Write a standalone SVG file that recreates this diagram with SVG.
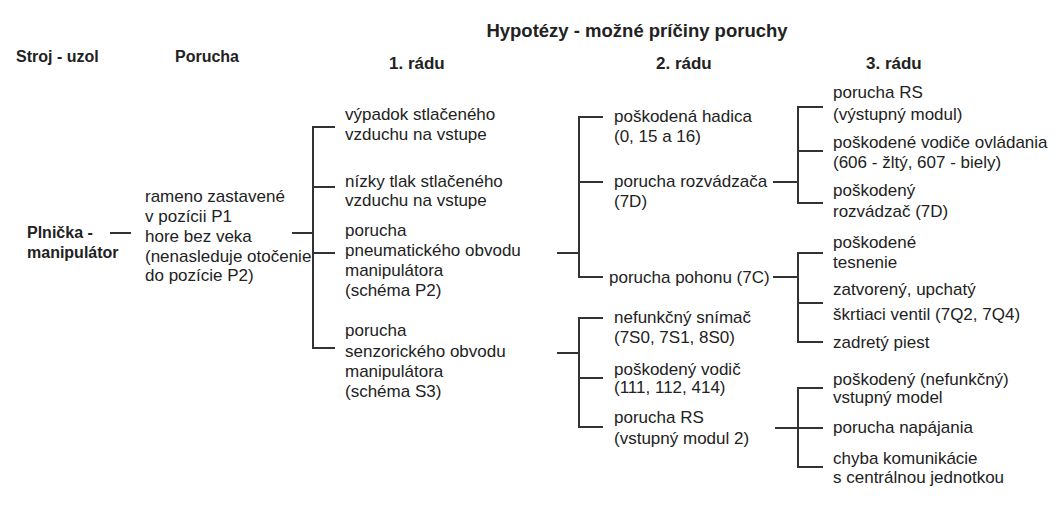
<svg xmlns="http://www.w3.org/2000/svg" width="1063" height="505" viewBox="0 0 1063 505">
<style>
text{font-family:"Liberation Sans",Arial,sans-serif;font-size:17px;fill:#222}
.b{font-weight:bold;font-size:16px}
.h{font-size:17px}
#connectors path{fill:none;stroke:#333;stroke-width:2}
</style>
<rect width="1063" height="505" fill="#fff"/>
<g id="headers">
<text class="b" x="637" y="37" text-anchor="middle" style="font-size:18.5px">Hypotézy - možné príčiny poruchy</text>
<text class="b" x="16" y="62">Stroj - uzol</text>
<text class="b" x="175" y="62">Porucha</text>
<text class="b h" x="389" y="69">1. rádu</text>
<text class="b h" x="656" y="69">2. rádu</text>
<text class="b h" x="866" y="69">3. rádu</text>
</g>
<g id="connectors">
<path d="M110 233H131"/>
<path d="M292 233H313M335 127H313V348H335M313 187H335M313 253H335"/>
<path d="M557 253H579M603 117H579V277H603M579 182H603"/>
<path d="M557 353H579M603 318H579V427H603M579 378H603"/>
<path d="M773 182H798M823 107H798V203H823M798 151H823"/>
<path d="M773 277H798M823 253H798V342H823M798 303H823"/>
<path d="M775 428H823M823 388H798V467H823"/>
</g>
<g id="n-stroj"><text class="b" x="27" y="238">Plnička -</text><text class="b" x="27" y="258">manipulátor</text></g>
<g id="n-porucha"><text x="145" y="202">rameno zastavené</text><text x="145" y="222">v pozícii P1</text><text x="145" y="242">hore bez veka</text><text x="145" y="262">(nenasleduje otočenie</text><text x="145" y="281">do pozície P2)</text></g>
<g id="n-1a"><text x="345" y="120">výpadok stlačeného</text><text x="345" y="140">vzduchu na vstupe</text></g>
<g id="n-1b"><text x="345" y="187">nízky tlak stlačeného</text><text x="345" y="206">vzduchu na vstupe</text></g>
<g id="n-1c"><text x="345" y="236">porucha</text><text x="345" y="256">pneumatického obvodu</text><text x="345" y="276">manipulátora</text><text x="345" y="296">(schéma P2)</text></g>
<g id="n-1d"><text x="345" y="336">porucha</text><text x="345" y="357">senzorického obvodu</text><text x="345" y="377">manipulátora</text><text x="345" y="397">(schéma S3)</text></g>
<g id="n-2a"><text x="614" y="122">poškodená hadica</text><text x="614" y="142">(0, 15 a 16)</text></g>
<g id="n-2b"><text x="614" y="187">porucha rozvádzača</text><text x="614" y="207">(7D)</text></g>
<g id="n-2c"><text x="609" y="283">porucha pohonu (7C)</text></g>
<g id="n-2d"><text x="614" y="323">nefunkčný snímač</text><text x="614" y="343">(7S0, 7S1, 8S0)</text></g>
<g id="n-2e"><text x="614" y="375">poškodený vodič</text><text x="614" y="393">(111, 112, 414)</text></g>
<g id="n-2f"><text x="614" y="423">porucha RS</text><text x="614" y="444">(vstupný modul 2)</text></g>
<g id="n-3a"><text x="833" y="98">porucha RS</text><text x="833" y="120">(výstupný modul)</text></g>
<g id="n-3b"><text x="833" y="148">poškodené vodiče ovládania</text><text x="833" y="168">(606 - žltý, 607 - biely)</text></g>
<g id="n-3c"><text x="833" y="196">poškodený</text><text x="833" y="217">rozvádzač (7D)</text></g>
<g id="n-3d"><text x="833" y="248">poškodené</text><text x="833" y="268">tesnenie</text></g>
<g id="n-3e"><text x="833" y="295">zatvorený, upchatý</text><text x="833" y="320">škrtiaci ventil (7Q2, 7Q4)</text></g>
<g id="n-3f"><text x="833" y="348">zadretý piest</text></g>
<g id="n-3g"><text x="833" y="385">poškodený (nefunkčný)</text><text x="833" y="403">vstupný model</text></g>
<g id="n-3h"><text x="833" y="433">porucha napájania</text></g>
<g id="n-3i"><text x="833" y="464">chyba komunikácie</text><text x="833" y="483">s centrálnou jednotkou</text></g>
</svg>
